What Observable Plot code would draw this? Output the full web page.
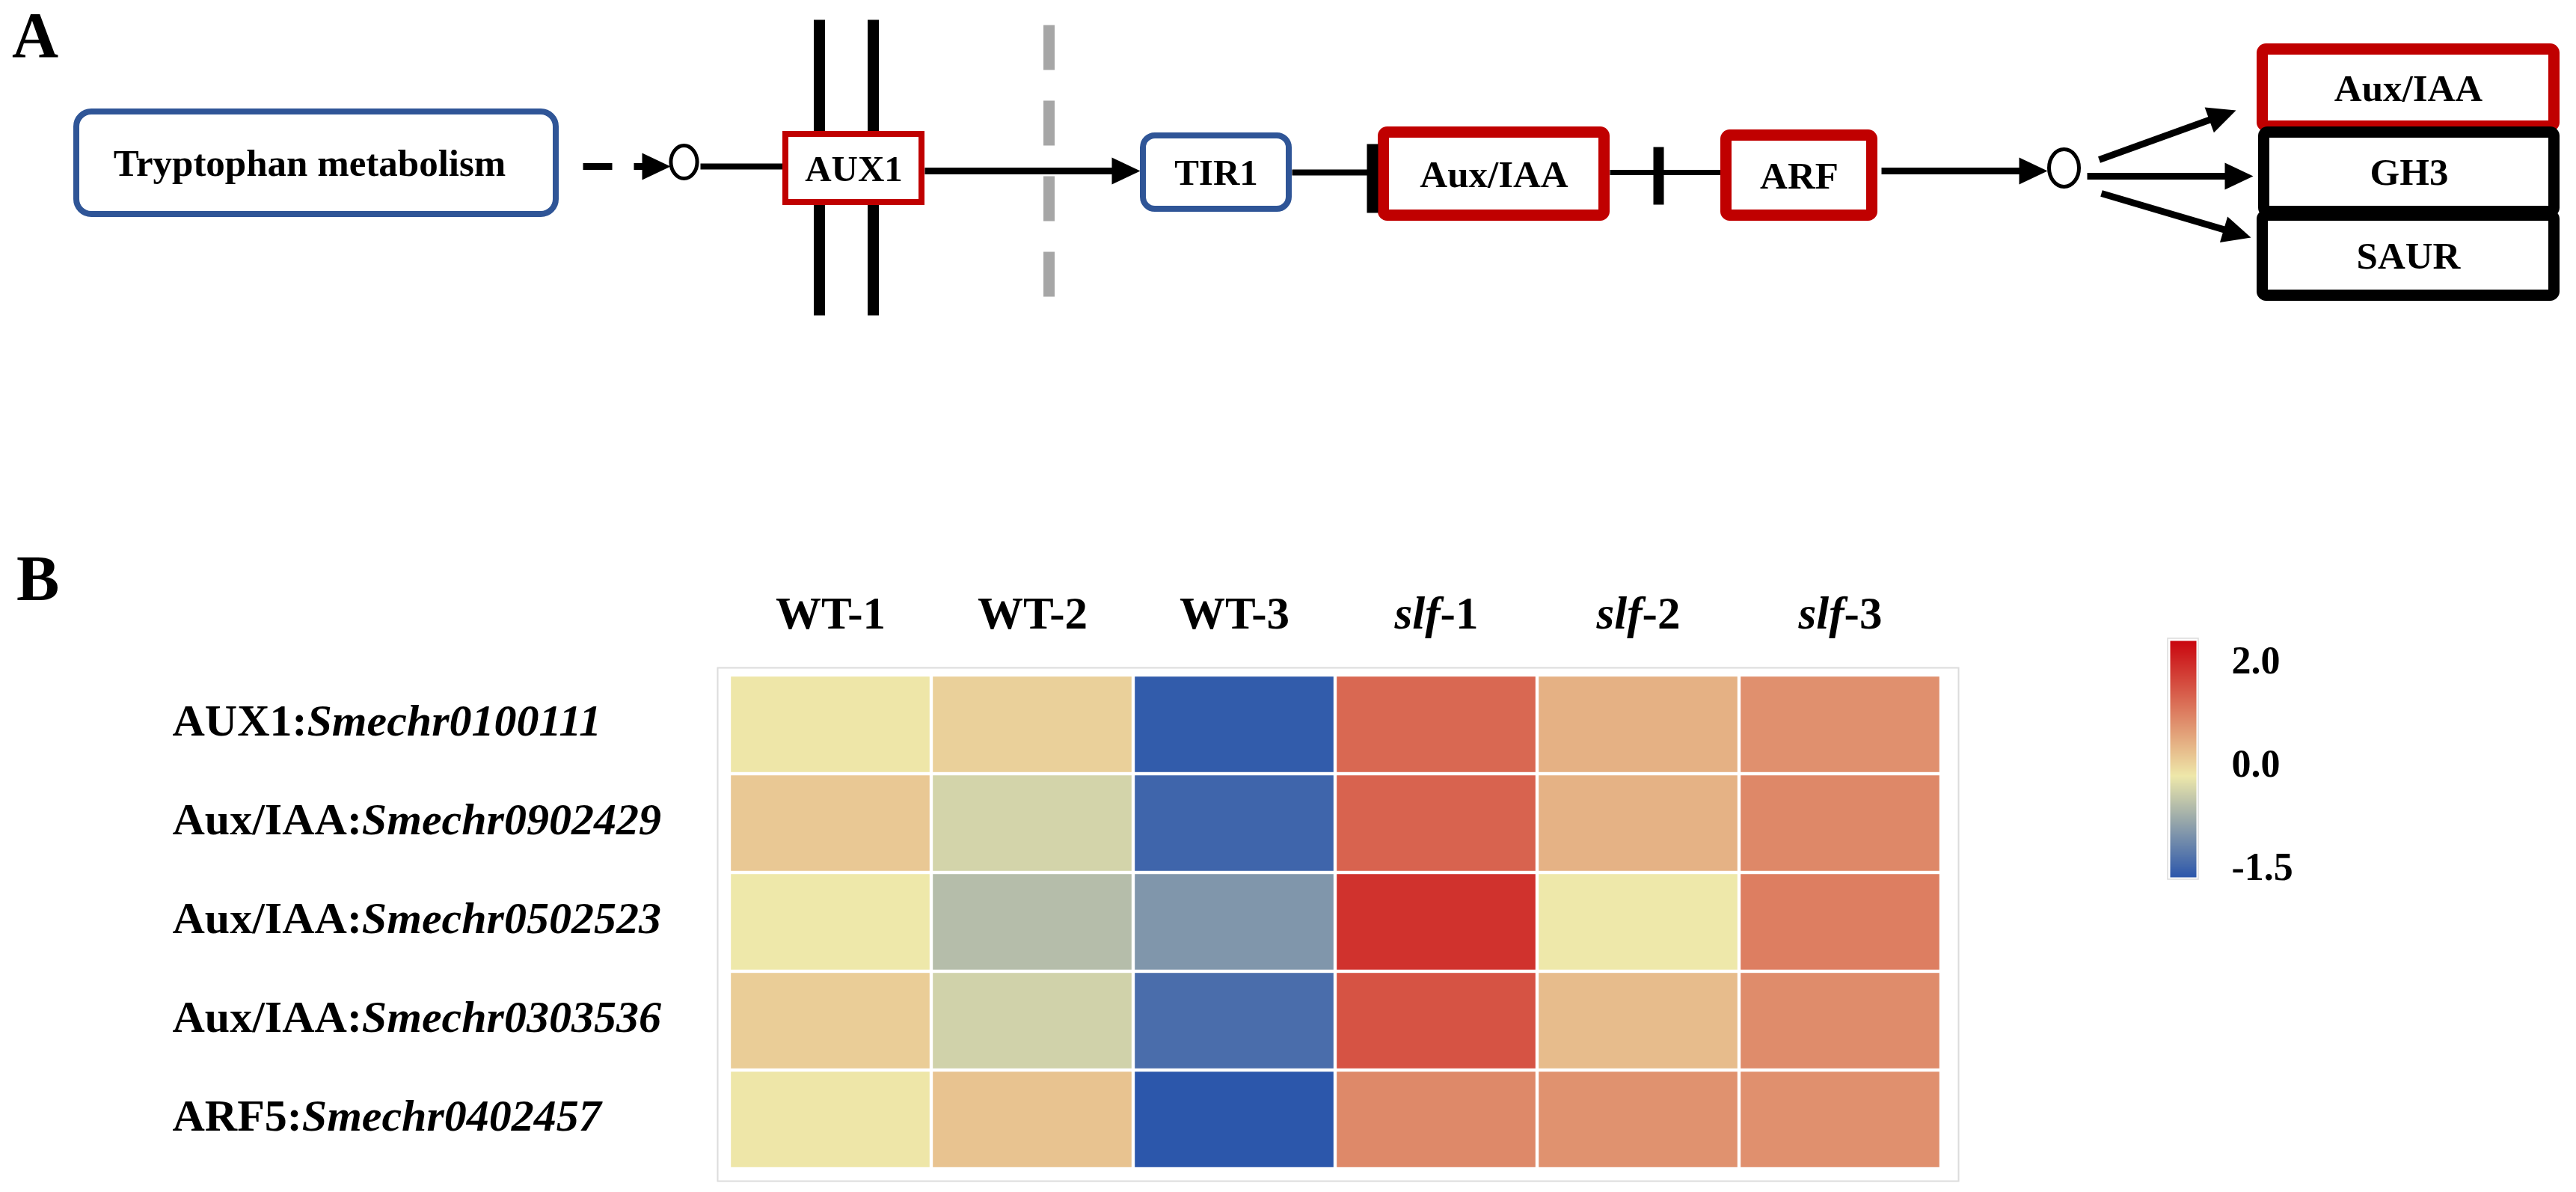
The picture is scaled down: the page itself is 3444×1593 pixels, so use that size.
<!DOCTYPE html>
<html>
<head>
<meta charset="utf-8">
<script src="https://cdn.jsdelivr.net/npm/d3@7"></script>
<script src="https://cdn.jsdelivr.net/npm/@observablehq/plot@0.6"></script>
<style>
  html, body { margin: 0; padding: 0; background: #fff; }
  #wrap { position: relative; width: 3444px; height: 1593px; overflow: hidden; background: #fff; }
  #wrap svg { position: absolute; }
  .plabel { position: absolute; font: bold 86px "Liberation Serif", "Times New Roman", serif; line-height: 1; color: #000; }
</style>
</head>
<body>
<div id="wrap">
  <div class="plabel" style="left:16px; top:4px;">A</div>
  <div class="plabel" style="left:22px; top:730px;">B</div>
</div>
<script>
// ================= DATA =================
// Panel B heatmap (row-scaled expression, z-score)
const samples = ["WT-1", "WT-2", "WT-3", "slf-1", "slf-2", "slf-3"];
const genes = [
  "AUX1:Smechr0100111",
  "Aux/IAA:Smechr0902429",
  "Aux/IAA:Smechr0502523",
  "Aux/IAA:Smechr0303536",
  "ARF5:Smechr0402457"
];
const zAUX1_0100111 = [0.02, 0.21, -1.45, 1.13, 0.49, 0.78];
const zIAA_0902429  = [0.28, -0.21, -1.35, 1.18, 0.48, 0.85];
const zIAA_0502523  = [0.00, -0.44, -0.85, 1.61, 0.00, 0.94];
const zIAA_0303536  = [0.24, -0.23, -1.27, 1.32, 0.39, 0.81];
const zARF5_0402457 = [0.02, 0.33, -1.50, 0.84, 0.76, 0.78];
const colorDomain = [-1.5, 0, 2];
const legendTicks = ["2.0", "0.0", "-1.5"];

// Panel A pathway nodes
const nodeLabels = ["Tryptophan metabolism", "AUX1", "TIR1", "Aux/IAA", "ARF", "Aux/IAA", "GH3", "SAUR"];
const nodeKinds  = ["pathway", "changed", "unchanged", "changed", "changed", "changed", "target", "target"];

// ================= LAYOUT / STYLE =================
const FONT = '"Liberation Serif", "Times New Roman", serif';
const kindColor = {pathway: "#2F5597", unchanged: "#2F5597", changed: "#C00000", target: "#000000"};
const colorRange = ["#2C57AB", "#EEE8AA", "#C9060F"];

// outer box extents (px) + stroke width + corner radius
const boxLayout = [
  {x1: 98,   x2: 747,  y1: 145, y2: 290, sw: 8,  rx: 20, fs: 51, dx: -9},
  {x1: 1046, x2: 1236, y1: 175, y2: 274, sw: 8,  rx: 0,  fs: 49, dx: 0},
  {x1: 1524, x2: 1727, y1: 177, y2: 283, sw: 8,  rx: 16, fs: 49, dx: 0},
  {x1: 1842, x2: 2152, y1: 169, y2: 295, sw: 15, rx: 5,  fs: 51, dx: 0},
  {x1: 2300, x2: 2510, y1: 173, y2: 295, sw: 15, rx: 5,  fs: 51, dx: 0},
  {x1: 3017, x2: 3422, y1: 58,  y2: 176, sw: 15, rx: 5,  fs: 51, dx: 0},
  {x1: 3019, x2: 3422, y1: 169, y2: 290, sw: 15, rx: 5,  fs: 51, dx: 0},
  {x1: 3017, x2: 3422, y1: 280, y2: 402, sw: 15, rx: 5,  fs: 51, dx: 0}
];
const membraneLayout = [
  {x1: 1095, y1: 26, x2: 1095, y2: 421},
  {x1: 1167, y1: 26, x2: 1167, y2: 421}
];
const nuclearLayout = [{x1: 1402, y1: 33, x2: 1402, y2: 396}];
const plainLinkLayout = [
  {x1: 936,  y1: 222, x2: 1046, y2: 222, w: 8},
  {x1: 1727, y1: 230, x2: 1834, y2: 230, w: 8},
  {x1: 2152, y1: 230, x2: 2300, y2: 230, w: 7}
];
const inhibitLayout = [
  {x1: 1834.5, y1: 192, x2: 1834.5, y2: 284, w: 15},
  {x1: 2217,   y1: 196, x2: 2217,   y2: 273, w: 14}
];
const dashedArrowLayout = [{x1: 779, y1: 222, x2: 896, y2: 222}];
const arrowLayout = [
  {x1: 1236, y1: 228, x2: 1524, y2: 228},
  {x1: 2515, y1: 228, x2: 2737, y2: 228},
  {x1: 2806, y1: 213, x2: 2989, y2: 147},
  {x1: 2790, y1: 235, x2: 3012, y2: 235},
  {x1: 2809, y1: 258, x2: 3009, y2: 317}
];
const junction1 = [{x: 914, y: 216}];
const junction2 = [{x: 2759, y: 224}];

// custom symbols
const ellipseSymbol = {
  draw(ctx, size) {
    const ry = Math.sqrt(size / Math.PI), rx = ry * 0.8, k = 0.5523;
    ctx.moveTo(rx, 0);
    ctx.bezierCurveTo(rx, k * ry, k * rx, ry, 0, ry);
    ctx.bezierCurveTo(-k * rx, ry, -rx, k * ry, -rx, 0);
    ctx.bezierCurveTo(-rx, -k * ry, -k * rx, -ry, 0, -ry);
    ctx.bezierCurveTo(k * rx, -ry, rx, -k * ry, rx, 0);
    ctx.closePath();
  }
};
const headSymbol = {
  draw(ctx, size) {
    const r = Math.sqrt(size / Math.PI);
    ctx.moveTo(0, -r);
    ctx.lineTo(0.95 * r, r);
    ctx.lineTo(-0.95 * r, r);
    ctx.closePath();
  }
};
const HEAD_R = 19;

// ================= PANEL A =================
const nodes = nodeLabels.map((label, i) => {
  const b = boxLayout[i];
  return {label, kind: nodeKinds[i], ...b,
    cx1: b.x1 + b.sw / 2, cx2: b.x2 - b.sw / 2, cy1: b.y1 + b.sw / 2, cy2: b.y2 - b.sw / 2,
    tx: (b.x1 + b.x2) / 2 + b.dx, ty: (b.y1 + b.y2) / 2 + 1};
});
function withHead(a) {
  const dx = a.x2 - a.x1, dy = a.y2 - a.y1, L = Math.hypot(dx, dy), ux = dx / L, uy = dy / L;
  return {...a, lx2: a.x2 - ux * (2 * HEAD_R - 4), ly2: a.y2 - uy * (2 * HEAD_R - 4),
    hx: a.x2 - ux * HEAD_R, hy: a.y2 - uy * HEAD_R, rot: Math.atan2(dy, dx) * 180 / Math.PI + 90};
}
const arrows = arrowLayout.map(withHead);
const dashedArrows = dashedArrowLayout.map(withHead);

const boxMarks = nodes.map(n => Plot.rect([n], {
  x1: "cx1", x2: "cx2", y1: "cy1", y2: "cy2",
  fill: "white", stroke: kindColor[n.kind], strokeWidth: n.sw, rx: n.rx
}));
const textMarks = nodes.map(n => Plot.text([n], {
  x: "tx", y: "ty", text: "label", fontSize: n.fs, fontWeight: "bold", fontFamily: FONT, fill: "black"
}));

const plotA = Plot.plot({
  width: 3444, height: 460, margin: 0,
  x: {type: "identity", axis: null}, y: {type: "identity", axis: null},
  style: {background: "transparent", overflow: "visible"},
  marks: [
    Plot.link(membraneLayout, {x1: "x1", y1: "y1", x2: "x2", y2: "y2", stroke: "black", strokeWidth: 15}),
    Plot.link(nuclearLayout, {x1: "x1", y1: "y1", x2: "x2", y2: "y2", stroke: "#A6A6A6", strokeWidth: 15, strokeDasharray: "60,41"}),
    Plot.link(plainLinkLayout, {x1: "x1", y1: "y1", x2: "x2", y2: "y2", stroke: "black", strokeWidth: d => d.w}),
    Plot.link(dashedArrows, {x1: "x1", y1: "y1", x2: "lx2", y2: "ly2", stroke: "black", strokeWidth: 9, strokeDasharray: "39,29"}),
    Plot.link(arrows, {x1: "x1", y1: "y1", x2: "lx2", y2: "ly2", stroke: "black", strokeWidth: 9}),
    ...boxMarks,
    ...textMarks,
    Plot.link(inhibitLayout, {x1: "x1", y1: "y1", x2: "x2", y2: "y2", stroke: "black", strokeWidth: d => d.w}),
    Plot.dot([...arrows, ...dashedArrows], {x: "hx", y: "hy", r: HEAD_R, rotate: "rot", symbol: headSymbol, fill: "black", stroke: "none"}),
    Plot.dot(junction1, {x: "x", y: "y", r: 22, symbol: ellipseSymbol, fill: "white", stroke: "black", strokeWidth: 5}),
    Plot.dot(junction2, {x: "x", y: "y", r: 25, symbol: ellipseSymbol, fill: "white", stroke: "black", strokeWidth: 5})
  ]
});
plotA.style.left = "0px"; plotA.style.top = "0px";

// ================= PANEL B =================
const exprRows = [zAUX1_0100111, zIAA_0902429, zIAA_0502523, zIAA_0303536, zARF5_0402457];
const table = genes.flatMap((g, i) => samples.map((s, j) => ({gene: g, sample: s, value: exprRows[i][j]})));
const colorScale = {type: "linear", domain: colorDomain, range: colorRange, interpolate: "rgb"};

const plotB = Plot.plot({
  width: 3444, height: 893,
  marginLeft: 972, marginRight: 847, marginTop: 202, marginBottom: 31,
  x: {domain: samples, padding: 0, label: null},
  y: {domain: genes, padding: 0, label: null},
  color: colorScale,
  style: {background: "transparent", fontFamily: FONT, fontWeight: "bold", fontSize: "60px", color: "black", overflow: "visible"},
  marks: [
    Plot.frame({stroke: "#DCDCDC", strokeWidth: 2, insetLeft: -13, insetRight: -21, insetTop: -10, insetBottom: -16}),
    Plot.cell(table, {x: "sample", y: "gene", fill: "value", inset: 2.2}),
    Plot.axisX({anchor: "top", tickSize: 0, tickPadding: 63, fontSize: 61, label: null}),
    Plot.axisY({anchor: "left", tickSize: 0, tickPadding: 742, textAnchor: "start", dy: -5, fontSize: 60, label: null})
  ]
});
plotB.style.left = "0px"; plotB.style.top = "700px";

// mixed italic labels
d3.select(plotB).selectAll('g[aria-label="x-axis tick label"] text').each(function () {
  const t = this.textContent;
  const m = t.match(/^(slf)(.*)$/);
  if (m) {
    this.textContent = "";
    d3.select(this).append("tspan").attr("font-style", "italic").text(m[1]);
    d3.select(this).append("tspan").text(m[2]);
  }
});
d3.select(plotB).selectAll('g[aria-label="y-axis tick label"] text').each(function () {
  const t = this.textContent;
  const k = t.indexOf(":");
  if (k >= 0) {
    this.textContent = "";
    d3.select(this).append("tspan").text(t.slice(0, k + 1));
    d3.select(this).append("tspan").attr("font-style", "italic").text(t.slice(k + 1));
  }
});

// ================= LEGEND =================
const legendBar = Plot.plot({
  width: 100, height: 370, margin: 0,
  x: {domain: [0, 1], range: [21, 56], axis: null},
  y: {domain: [colorDomain[0], colorDomain[2]], range: [342, 26], axis: null},
  color: colorScale,
  style: {background: "transparent", overflow: "visible"},
  marks: [
    Plot.raster({x1: 0, x2: 1, y1: colorDomain[0], y2: colorDomain[2], fill: (x, y) => y, width: 1, height: 316}),
    Plot.rect([{}], {x1: () => 0, x2: () => 1, y1: () => colorDomain[0], y2: () => colorDomain[2], fill: "none", stroke: "#DCDCDC", strokeWidth: 1.5, inset: -3})
  ]
});
legendBar.style.left = "2880px"; legendBar.style.top = "830px";

const legendText = Plot.plot({
  width: 300, height: 370, margin: 0,
  y: {type: "point", domain: legendTicks, range: [52, 329], padding: 0, axis: null},
  style: {background: "transparent", overflow: "visible"},
  marks: [
    Plot.text(legendTicks, {y: d => d, text: d => d, frameAnchor: "left", textAnchor: "start", dx: 103,
      fontSize: 52, fontWeight: "bold", fontFamily: FONT, fill: "black"})
  ]
});
legendText.style.left = "2880px"; legendText.style.top = "830px";

const wrap = document.getElementById("wrap");
wrap.appendChild(plotA);
wrap.appendChild(plotB);
wrap.appendChild(legendBar);
wrap.appendChild(legendText);
</script>
</body>
</html>
